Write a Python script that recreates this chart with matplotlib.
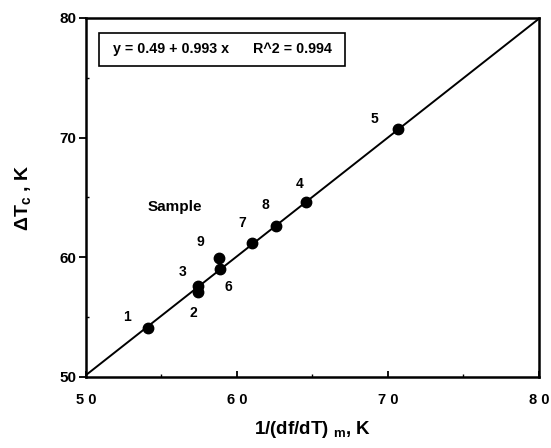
import numpy as np
import matplotlib
matplotlib.use("Agg")
import matplotlib.pyplot as plt
from matplotlib.ticker import MultipleLocator

plt.rcParams['font.family'] = ['Liberation Sans', 'DejaVu Sans']
plt.rcParams['font.weight'] = 'bold'
plt.rcParams['mathtext.fontset'] = 'custom'
plt.rcParams['mathtext.bf'] = 'Liberation Sans:bold'

# Data
samples = ['1', '2', '3', '4', '5', '6', '7', '8', '9']
x_inv = [54.1, 57.4, 57.4, 64.6, 70.7, 58.9, 61.0, 62.6, 58.8]
dT_c = [54.1, 57.1, 57.6, 64.6, 70.7, 59.0, 61.2, 62.6, 59.9]
# label offsets in points (dx, dy)
label_off = [(-15, 8), (-3, -15), (-11, 10), (-5, 13), (-17, 7),
             (6, -13), (-7, 14), (-8, 15), (-13, 12)]

fit_a, fit_b = 0.49, 0.993
r2 = 0.994

fig = plt.figure(figsize=(5.51, 4.48), dpi=100)
ax = fig.add_axes([0.156, 0.159, 0.822, 0.801])

# fitted line across the plot range
xl = np.array([50, 80])
ax.plot(xl, fit_a + fit_b * xl, color='black', lw=1.4)

ax.plot(x_inv, dT_c, 'o', color='black', ms=7.5)

for s, x, y, off in zip(samples, x_inv, dT_c, label_off):
    ax.annotate(s, (x, y), xytext=off, textcoords='offset points',
                ha='center', va='center', fontsize=10, fontweight='bold')

ax.text(55.9, 64.2, 'Sample', ha='center', va='center',
        fontsize=11, fontweight='bold')

ax.text(0.05, 0.912, ' y = 0.49 + 0.993 x      R^2 = 0.994 ',
        transform=ax.transAxes, ha='left', va='center', fontsize=10.3,
        bbox=dict(boxstyle='square,pad=0.65', fc='white', ec='black', lw=1.2))

ax.set_xlim(50, 80)
ax.set_ylim(50, 80)
ax.xaxis.set_minor_locator(MultipleLocator(5))
ax.yaxis.set_minor_locator(MultipleLocator(5))
ax.set_xticks([50, 60, 70, 80])
ax.set_xticklabels(['5 0', '6 0', '7 0', '8 0'], fontsize=10.5, fontweight='bold')
ax.set_yticks([50, 60, 70, 80])
ax.set_yticklabels(['50', '60', '70', '80'], fontsize=11, fontweight='bold')

ax.tick_params(axis='x', which='major', direction='in', length=4, width=1.3, pad=12)
ax.tick_params(axis='x', which='minor', direction='in', length=2, width=1)
ax.tick_params(axis='y', which='major', direction='out', length=5, width=1.3, pad=2)
ax.tick_params(axis='y', which='minor', direction='in', length=2, width=1)

for sp in ax.spines.values():
    sp.set_linewidth(1.8)

ax.set_xlabel('1/(df/dT) $_\\mathbf{m}$, K', fontsize=13.5, fontweight='bold', labelpad=8)
ax.set_ylabel('$\\mathbf{\\Delta}$T$_\\mathbf{c}$ , K', fontsize=14, fontweight='bold', labelpad=18)

fig.savefig('out.png', dpi=100)
